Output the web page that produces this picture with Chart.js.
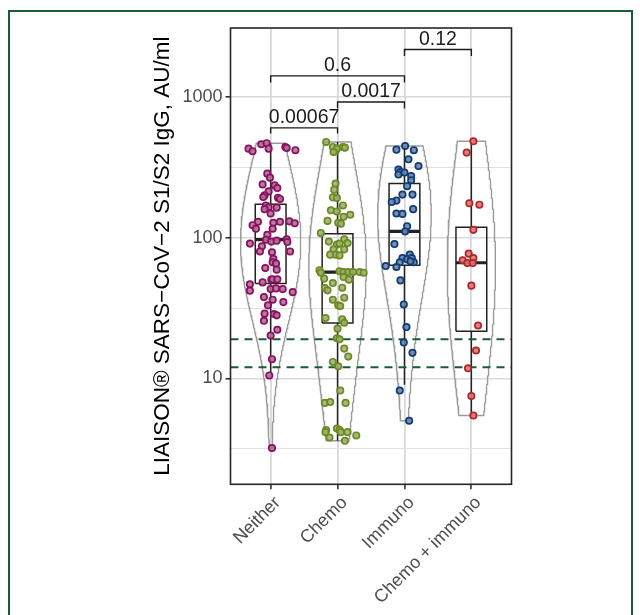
<!DOCTYPE html>
<html><head><meta charset="utf-8">
<script src="https://cdn.jsdelivr.net/npm/chart.js@4.4.0/dist/chart.umd.min.js"></script>
<style>
html,body{margin:0;padding:0;background:#fff;}
#wrap{position:relative;width:640px;height:615px;overflow:hidden;background:#fff;}
#frame{position:absolute;left:8px;top:10px;width:621px;height:700px;border:2px solid #1b5c38;pointer-events:none;}
canvas{position:absolute;left:0;top:0;}
</style></head><body>
<div id="wrap"><canvas id="c" width="640" height="615"></canvas><div id="frame"></div></div>
<script>
// ---------- data ----------
const categories = ['Neither', 'Chemo', 'Immuno', 'Chemo + immuno'];

const neitherValues = [431,413,463,471,431,443,436,420,286,268,240,236,226,214,201,195,193,189,170,165,164,160,149,130,123,116,128,130,116,131,127,105,97,94,95.5,97.6,93.3,91,87,80,79,80,71,67,65.5,61,59.4,50.4,50.7,50.7,46.7,48.2,43.2,43.7,43.2,42.1,41.1,37.9,36.3,34.9,33.1,28.9,28.7,28.1,25.7,22.2,20.2,13.7,10.5,3.2];
const neitherJitter = [-0.33,-0.27,-0.14,-0.06,-0.03,0.22,0.24,0.37,-0.05,-0.01,-0.12,0.06,0.10,-0.03,-0.09,-0.11,0.11,0.14,-0.07,-0.03,0.09,-0.09,0.00,-0.19,-0.27,-0.22,0.04,0.14,0.03,0.28,0.36,-0.05,-0.07,0.01,0.09,0.24,0.25,-0.31,-0.13,-0.16,0.02,0.29,0.04,0.03,0.08,-0.08,0.09,0.01,0.03,0.10,-0.31,-0.12,0.00,0.08,0.18,-0.31,0.33,-0.10,0.03,0.19,-0.04,-0.09,0.05,0.09,-0.10,0.10,0.00,0.02,-0.02,0.02];

const chemoValues = [481,443,413,431,443,438,408,243,220,194,192,170,157,154,146,141,132,128,126,108,94,97.6,91.8,89.5,91,82.8,82.8,75.9,75.9,75,58.7,56.5,57.8,57.1,57.1,57.1,57.1,56.5,51.3,52.6,50.4,47.7,43.9,42.3,44.2,36.3,37.5,33.1,32.7,26.9,26.3,24.9,22.6,19.3,19.0,16.3,14.3,13.1,12.2,8.2,6.7,6.8,6.7,4.3,4.15,4.4,4.3,4.15,4.15,3.8,3.93,3.6];
const chemoJitter = [-0.17,-0.07,-0.03,-0.01,0.08,0.11,-0.06,-0.03,-0.05,-0.07,-0.01,0.08,-0.10,-0.01,0.19,0.09,-0.15,0.01,0.05,-0.25,-0.13,0.10,0.15,-0.01,0.03,-0.06,0.10,-0.03,-0.11,0.03,-0.27,-0.25,0.03,0.09,0.16,0.23,0.33,0.39,-0.20,0.09,0.17,-0.07,-0.19,-0.15,0.07,-0.07,0.10,0.01,0.04,-0.18,0.07,0.10,0.00,-0.01,0.03,0.10,0.16,-0.07,0.01,0.04,-0.19,-0.11,0.12,-0.17,-0.18,-0.01,0.03,0.05,0.15,-0.12,0.28,0.11];

const immunoValues = [450,424,420,362,324,306,294,291,282,275,257,233,203,203,184,180,160,149,148,121,111,90.3,71.8,75.9,70.3,71.8,67,67,63,62,68,49.8,33.6,23.2,18,15.2,8.2,5.0];
const immunoJitter = [0.01,-0.12,0.14,0.06,0.21,-0.09,-0.06,0.00,-0.09,0.10,0.10,0.04,-0.03,0.12,-0.12,-0.19,0.13,-0.12,-0.03,0.04,0.01,-0.15,-0.03,0.08,0.04,0.11,0.14,-0.07,-0.28,-0.12,0.09,-0.06,-0.01,0.03,-0.01,0.12,-0.07,0.07];

const comboValues = [486,404,176,172,114,77.2,71.8,69.2,66.2,66.2,45.7,23.8,15.8,11.8,7.5,5.45];
const comboJitter = [0.03,-0.07,-0.03,0.12,0.03,-0.04,0.03,-0.13,-0.06,0.02,0.00,0.10,0.07,-0.05,0.00,0.03];

// box-plot summaries (whisker low, Q1, median, Q3, whisker high)
const boxLow    = [10.5, 3.6, 9.0, 5.45];
const boxQ1     = [47.4, 24.8, 63.7, 21.7];
const boxMedian = [97, 57, 111, 66.5];
const boxQ3     = [173, 107, 243, 119];
const boxHigh   = [469, 481, 450, 486];

// reference thresholds (dashed lines)
const thresholdValues = [12, 19];

// significance brackets
const bracketFrom   = [1, 2, 1, 3];
const bracketTo     = [2, 3, 3, 4];
const bracketLevel  = [605, 926, 1418, 2185];
const bracketTip    = [552, 831, 1272, 1968];
const bracketLabels = ['0.00067', '0.0017', '0.6', '0.12'];

// axis ticks
const yTickValues = [3.16, 10, 31.6, 100, 316, 1000];
const yTickLabels = ['', '10', '', '100', '', '1000'];

// ---------- styling ----------
const groupValues = [neitherValues, chemoValues, immunoValues, comboValues];
const groupJitter = [neitherJitter, chemoJitter, immunoJitter, comboJitter];
const pointBorder = ['#8a1060', '#6c8a22', '#0e3c76', '#b2262a'];
const pointFill   = ['rgba(176,110,150,0.9)', 'rgba(160,176,112,0.9)', 'rgba(110,130,170,0.9)', 'rgba(214,120,120,0.9)'];
const violinHalfWidth = [0.45, 0.43, 0.40, 0.36];   // widest half-width of each violin, in category units
const FONT = '"Liberation Sans", Arial, Helvetica, sans-serif';
const BW_ADJUST = 2.2;
const BOX_HALF = 0.23;

// ---------- violin densities (gaussian KDE on log10 values, trimmed) ----------
function quantile(s, p){ const h=(s.length-1)*p, lo=Math.floor(h), hi=Math.min(lo+1,s.length-1); return s[lo]+(h-lo)*(s[hi]-s[lo]); }
function kde(vals){
  const L = vals.map(v=>Math.log10(v)).sort((a,b)=>a-b);
  const n = L.length, mean = L.reduce((a,b)=>a+b,0)/n;
  const sd = Math.sqrt(L.reduce((a,b)=>a+(b-mean)*(b-mean),0)/(n-1));
  const iqr = quantile(L,0.75)-quantile(L,0.25);
  let lo = Math.min(sd, iqr/1.34); if(!(lo>0)) lo = sd || 1;
  const bw = BW_ADJUST*0.9*lo*Math.pow(n,-0.2);
  const out = [], N = 256;
  for(let k=0;k<N;k++){
    const t = L[0]+(L[n-1]-L[0])*k/(N-1);
    let s=0; for(const x of L){ const z=(t-x)/bw; s+=Math.exp(-0.5*z*z); }
    out.push({t, d: s/(n*bw*Math.sqrt(2*Math.PI))});
  }
  return out;
}
const dens = groupValues.map(kde);

const datasets = [];
groupValues.forEach((vals,g)=>{
  datasets.push({type:'scatter', order:0,
    data: vals.map((v,i)=>({x: g+1+groupJitter[g][i], y: v})),
    pointRadius:3.2, pointBorderWidth:1.7, borderColor:pointBorder[g], backgroundColor:pointFill[g],
    pointBorderColor:pointBorder[g], pointBackgroundColor:pointFill[g]});
});
bracketLabels.forEach((lab,i)=>{
  datasets.push({type:'line', order:0, showLine:true, spanGaps:false,
    data:[{x:bracketFrom[i],y:bracketTip[i]},{x:bracketFrom[i],y:bracketLevel[i]},{x:bracketTo[i],y:bracketLevel[i]},{x:bracketTo[i],y:bracketTip[i]}],
    borderColor:'#1a1a1a', borderWidth:1.4, pointRadius:0, fill:false, tension:0});
});
thresholdValues.forEach(v=>{
  datasets.push({type:'line', order:1, showLine:true,
    data:[{x:0.4,y:v},{x:4.6,y:v}],
    borderColor:'#1b5a38', borderWidth:1.9, borderDash:[8,6], pointRadius:0, fill:false});
});
categories.forEach((c,g)=>{
  const x=g+1;
  datasets.push({type:'line', order:2, showLine:true, spanGaps:false,
    data:[{x:x-BOX_HALF,y:boxQ1[g]},{x:x+BOX_HALF,y:boxQ1[g]},{x:x+BOX_HALF,y:boxQ3[g]},{x:x-BOX_HALF,y:boxQ3[g]},{x:x-BOX_HALF,y:boxQ1[g]},
          {x:x,y:null},{x:x,y:boxQ3[g]},{x:x,y:boxHigh[g]},{x:x,y:null},{x:x,y:boxQ1[g]},{x:x,y:boxLow[g]}],
    borderColor:'#222', borderWidth:1.5, pointRadius:0, fill:false, tension:0});
  datasets.push({type:'line', order:2, showLine:true,
    data:[{x:x-BOX_HALF,y:boxMedian[g]},{x:x+BOX_HALF,y:boxMedian[g]}],
    borderColor:'#222', borderWidth:3.2, pointRadius:0, fill:false});
});
dens.forEach((g,gi)=>{
  const x=gi+1, poly=[], m=Math.max(...g.map(p=>p.d)), w=violinHalfWidth[gi];
  g.forEach(p=>poly.push({x:x+w*p.d/m, y:Math.pow(10,p.t)}));
  for(let k=g.length-1;k>=0;k--){ const p=g[k]; poly.push({x:x-w*p.d/m, y:Math.pow(10,p.t)}); }
  poly.push(poly[0]);
  datasets.push({type:'line', order:3, showLine:true, data:poly,
    borderColor:'#9b9b9b', borderWidth:1.4, pointRadius:0, fill:false, tension:0});
});

const annot = {
  id:'annot',
  afterDatasetsDraw(chart){
    const {ctx, chartArea:a, scales:{x,y}} = chart;
    ctx.save();
    ctx.strokeStyle='#262626'; ctx.lineWidth=1.6;
    ctx.strokeRect(a.left,a.top,a.right-a.left,a.bottom-a.top);
    ctx.font='19.5px '+FONT; ctx.fillStyle='#1a1a1a';
    ctx.textAlign='center'; ctx.textBaseline='alphabetic';
    bracketLabels.forEach((t,i)=>{
      const px=(x.getPixelForValue(bracketFrom[i])+x.getPixelForValue(bracketTo[i]))/2;
      const py=y.getPixelForValue(bracketLevel[i])-4.5;
      ctx.fillText(t,px,py);
    });
    ctx.restore();
  }
};

const isMajor = v => [10,100,1000].includes(v);

new Chart(document.getElementById('c'), {
  type:'scatter',
  data:{datasets},
  plugins:[annot],
  options:{
    responsive:false, animation:false, devicePixelRatio:1,
    layout:{padding:{left:147, top:28, right:128.5, bottom:0}},
    plugins:{legend:{display:false}, tooltip:{enabled:false}},
    scales:{
      x:{type:'linear', min:0.4, max:4.6,
        afterBuildTicks: s=>{ s.ticks = categories.map((c,i)=>({value:i+1})); },
        afterFit: s=>{ s.height = 130.7; },
        ticks:{autoSkip:false, minRotation:45, maxRotation:45, padding:3, labelOffset:7,
          color:'#4d4d4d', font:{family:FONT, size:18},
          callback:(v)=>categories[Math.round(v)-1]},
        grid:{color:'#d9d9d9', lineWidth:1.8, tickColor:'#333', tickLength:5, tickWidth:1.6},
        border:{display:false}
      },
      y:{type:'logarithmic', min:1.766, max:3108,
        afterBuildTicks: s=>{ s.ticks = yTickValues.map(v=>({value:v, major:isMajor(v)})); },
        afterFit: s=>{ s.width = 83.5; },
        ticks:{autoSkip:false, padding:3, color:'#4d4d4d', font:{family:FONT, size:18},
          callback:(v,i)=>yTickLabels[yTickValues.indexOf(v)] ?? ''},
        grid:{color:c=>c.tick && isMajor(c.tick.value)?'#d9d9d9':'#e0e0e0',
              lineWidth:c=>c.tick && isMajor(c.tick.value)?1.6:1.1,
              tickColor:c=>c.tick && isMajor(c.tick.value)?'#333':'rgba(0,0,0,0)',
              tickLength:5, tickWidth:1.6},
        border:{display:false},
        title:{display:true, text:'LIAISON® SARS−CoV−2 S1/S2 IgG, AU/ml', color:'#000',
          font:{family:FONT, size:22.5}, padding:{top:2, bottom:0}}
      }
    }
  }
});
</script>
</body></html>
